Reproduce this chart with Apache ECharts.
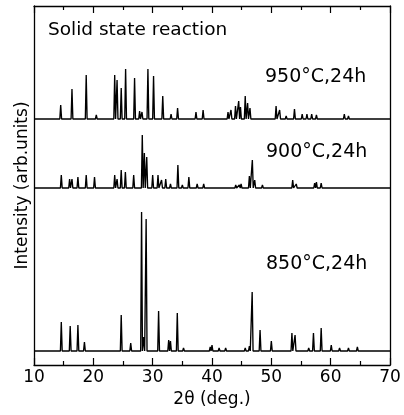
<!DOCTYPE html>
<html>
<head>
<meta charset="utf-8">
<script src="https://cdn.jsdelivr.net/npm/echarts@6/dist/echarts.min.js"></script>
<style>
html,body{margin:0;padding:0;background:#fff;}
#chart{width:404px;height:415px;}
</style>
</head>
<body>
<div id="chart"></div>
<script>
// ---- data (2θ in degrees, peak intensity in arb. units) ----
const xTicks = [10, 20, 30, 40, 50, 60, 70];

const pos850 = [14.6,16.1,17.4,18.5,20.5,22.5,24.7,26.3,28.13,28.5,28.9,31.0,32.7,33.0,34.15,35.2,36.5,37.8,39.7,40.0,41.2,42.3,43.5,44.5,45.6,46.3,46.77,48.1,50.0,51.5,52.5,53.47,54.0,55.3,56.3,57.1,58.4,60.1,61.5,63.0,64.5,66.0,68.0];
const int850 = [29,25,26,9,2,2,36,8,139,14,132,40,11,10,38,3,2,2,4,6,3,3,2,2,3,5,59,21,10,2,2,18,16,2,3,18,23,6,3,3,4,1,1];

const pos900 = [14.6,16.0,16.4,17.4,18.8,20.2,22.0,23.6,24.0,24.7,25.4,26.8,28.25,28.6,29.0,30.0,30.9,31.5,32.2,33.0,34.25,35.0,36.1,37.5,38.6,40.0,41.5,43.0,44.0,44.6,44.9,46.3,46.8,47.2,48.5,50.5,52.0,53.6,54.2,55.5,57.3,57.6,58.4,60.0,62.0,64.0,66.0];
const int900 = [13,9,9,11,13,11,1,13,9,18,16,13,53,35,31,13,13,8,9,4,23,3,11,4,4,2,2,2,3,3,4,12,28,8,3,2,2,8,4,2,5,6,5,2,1,1,1];

const pos950 = [14.5,16.4,18.8,20.5,23.6,24.0,24.7,25.44,26.95,27.8,28.2,29.2,30.15,31.7,33.1,34.2,35.5,37.3,38.5,40.5,42.7,43.2,43.96,44.5,44.8,45.6,46.0,46.4,48.5,50.8,51.4,52.5,53.9,55.2,56.0,56.8,57.6,59.0,60.5,62.3,63.0,65.0,67.0,69.0];
const int950 = [14,30,44,4,44,39,31,50,41,8,7,50,43,23,5,11,2,7,9,2,7,9,13,18,12,23,16,11,2,13,9,3,10,5,5,5,4,2,2,5,3,2,2,2];

const labels = ['950°C,24h', '900°C,24h', '850°C,24h'];

// ---- layout constants (vertical stacking offsets, peak foot half-width) ----
const OFFSET = {s850: 14, s900: 177, s950: 246};
const HALF = 0.15;

function trace(pos, inten, base) {
  const d = [[10, base]];
  for (let i = 0; i < pos.length; i++) {
    d.push([pos[i] - HALF, base]);
    d.push([pos[i], base + inten[i]]);
    d.push([pos[i] + HALF, base]);
  }
  d.push([70, base]);
  return d;
}

const FONT = 'DejaVu Sans';
const lineStyle = {color: '#000', width: 1.35};
const chart = echarts.init(document.getElementById('chart'), null, {renderer: 'canvas'});
const axisCommon = {
  type: 'value', min: 10, max: 70, interval: 10,
  axisLine: {onZero: false, lineStyle: {color: '#000', width: 1.3}},
  axisTick: {inside: true, length: 7, lineStyle: {color: '#000', width: 1.2}},
  minorTick: {show: true, splitNumber: 2, length: 4, lineStyle: {color: '#000', width: 1.2}},
  splitLine: {show: false}
};
chart.setOption({
  animation: false,
  backgroundColor: '#fff',
  grid: {left: 34, right: 14, top: 6, bottom: 50},
  xAxis: [
    Object.assign({}, axisCommon, {
      position: 'bottom',
      axisLabel: {show: true, color: '#000', fontSize: 17, fontFamily: FONT, margin: 4,
        formatter: v => xTicks.includes(v) ? String(v) : ''},
      name: '2θ (deg.)', nameLocation: 'middle', nameGap: 21,
      nameTextStyle: {color: '#000', fontSize: 17, fontFamily: FONT}
    }),
    Object.assign({}, axisCommon, {position: 'top', axisLabel: {show: false}})
  ],
  yAxis: [
    {type: 'value', min: 0, max: 359, position: 'left',
     axisLine: {show: true, onZero: false, lineStyle: {color: '#000', width: 1.3}},
     axisTick: {show: false}, axisLabel: {show: false}, splitLine: {show: false},
     name: 'Intensity (arb.units)', nameLocation: 'middle', nameGap: 3, nameRotate: 90,
     nameTextStyle: {color: '#000', fontSize: 17, fontFamily: FONT}},
    {type: 'value', min: 0, max: 359, position: 'right',
     axisLine: {show: true, onZero: false, lineStyle: {color: '#000', width: 1.3}},
     axisTick: {show: false}, axisLabel: {show: false}, splitLine: {show: false}}
  ],
  series: [
    {type: 'line', name: labels[2], data: trace(pos850, int850, OFFSET.s850), showSymbol: false, lineStyle: lineStyle, silent: true},
    {type: 'line', name: labels[1], data: trace(pos900, int900, OFFSET.s900), showSymbol: false, lineStyle: lineStyle, silent: true},
    {type: 'line', name: labels[0], data: trace(pos950, int950, OFFSET.s950), showSymbol: false, lineStyle: lineStyle, silent: true}
  ],
  graphic: [
    {type: 'text', left: 48, top: 21, style: {text: 'Solid state reaction', fill: '#000', font: '18.5px "DejaVu Sans"'}},
    {type: 'text', left: 265, top: 68, style: {text: labels[0], fill: '#000', font: '19px "DejaVu Sans"'}},
    {type: 'text', left: 266, top: 143, style: {text: labels[1], fill: '#000', font: '19px "DejaVu Sans"'}},
    {type: 'text', left: 266, top: 255, style: {text: labels[2], fill: '#000', font: '19px "DejaVu Sans"'}}
  ]
});
</script>
</body>
</html>
